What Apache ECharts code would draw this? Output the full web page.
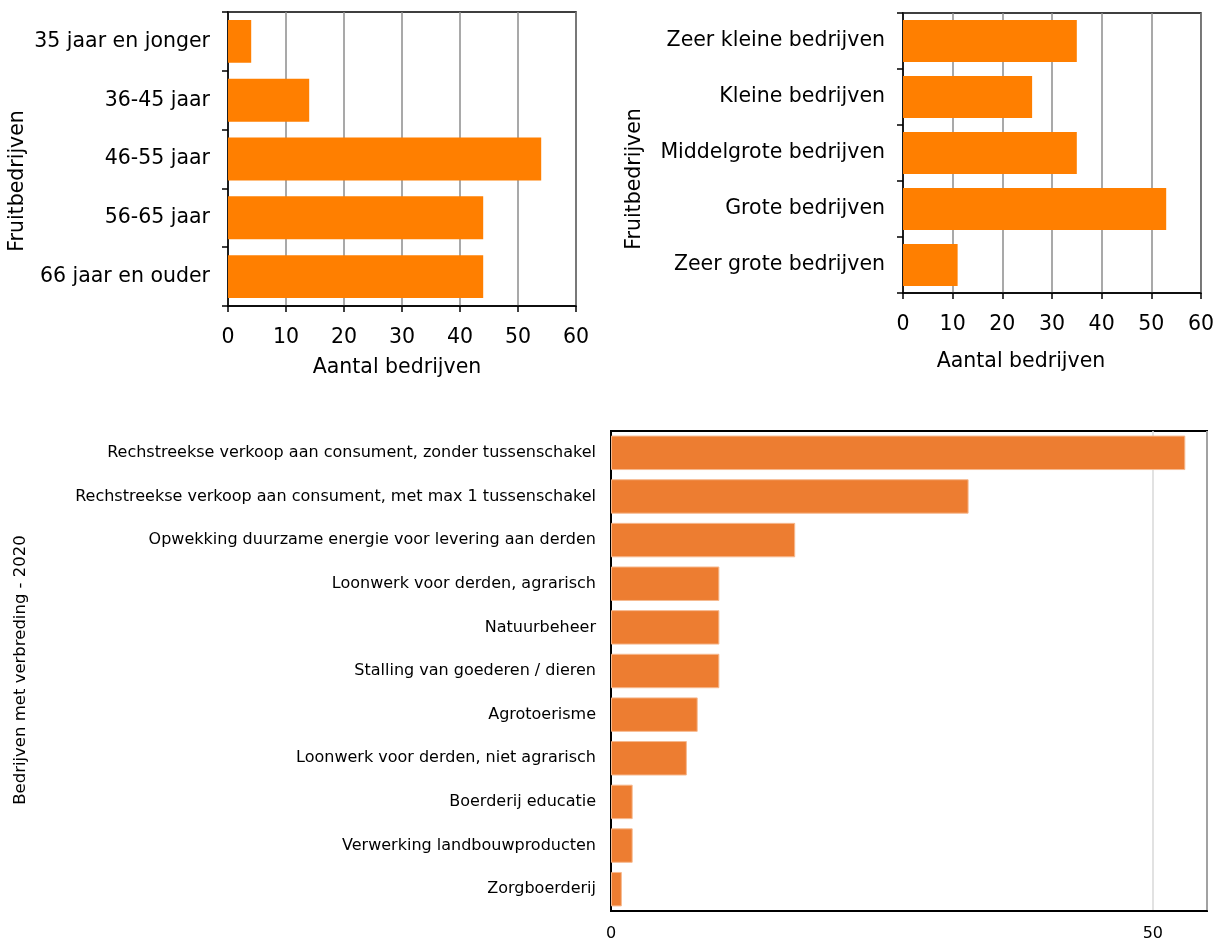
<!DOCTYPE html>
<html>
<head>
<meta charset="utf-8">
<title>Fruitbedrijven</title>
<script src="https://cdn.jsdelivr.net/npm/echarts@6/dist/echarts.min.js"></script>
<style>
  html, body { margin: 0; padding: 0; background: #fff; }
  #chart { width: 1217px; height: 942px; }
</style>
</head>
<body>
<div id="chart"></div>
<script>
// Leeftijd van de bedrijfshoofden
const ageCategories = ['35 jaar en jonger', '36-45 jaar', '46-55 jaar', '56-65 jaar', '66 jaar en ouder'];
const ageValues = [4, 14, 54, 44, 44];

// Bedrijfsgrootte
const sizeCategories = ['Zeer kleine bedrijven', 'Kleine bedrijven', 'Middelgrote bedrijven', 'Grote bedrijven', 'Zeer grote bedrijven'];
const sizeValues = [35, 26, 35, 53, 11];

// Verbreding 2020
const verbredingCategories = [
  'Rechstreekse verkoop aan consument, zonder tussenschakel',
  'Rechstreekse verkoop aan consument, met max 1 tussenschakel',
  'Opwekking duurzame energie voor levering aan derden',
  'Loonwerk voor derden, agrarisch',
  'Natuurbeheer',
  'Stalling van goederen / dieren',
  'Agrotoerisme',
  'Loonwerk voor derden, niet agrarisch',
  'Boerderij educatie',
  'Verwerking landbouwproducten',
  'Zorgboerderij'
];
const verbredingValues = [53, 33, 17, 10, 10, 10, 8, 7, 2, 2, 1];

const FONT = '"DejaVu Sans", Verdana, sans-serif';
const TOP_ORANGE = '#FF7F00';
const BOTTOM_ORANGE = '#ED7D31';
const TOP_SIZE = 20.5;
const BOTTOM_SIZE = 16;

function topValueAxis(gridIndex) {
  return {
    type: 'value', gridIndex: gridIndex, min: 0, max: 60, interval: 10,
    axisLine: { show: true, lineStyle: { color: '#000', width: 1.5 } },
    axisTick: { show: true, length: 6, lineStyle: { color: '#000', width: 1.5 } },
    axisLabel: { color: '#000', fontSize: TOP_SIZE, fontFamily: FONT, margin: 21 },
    splitLine: { show: true, lineStyle: { color: '#8c8c8c', width: 1.5 } }
  };
}

function topCategoryAxis(gridIndex, cats) {
  return {
    type: 'category', gridIndex: gridIndex, data: cats, inverse: true,
    axisLine: { show: true, lineStyle: { color: '#000', width: 1.5 } },
    axisTick: { show: true, length: 6, lineStyle: { color: '#000', width: 1.5 } },
    axisLabel: { color: '#000', fontSize: TOP_SIZE, fontFamily: FONT, margin: 18 },
    splitLine: { show: false }
  };
}

function rotatedTitle(text, x, y, size) {
  return {
    type: 'text', x: x, y: y, rotation: Math.PI / 2,
    style: { text: text, font: size + 'px ' + FONT, fill: '#000', align: 'center', verticalAlign: 'middle' }
  };
}

function flatTitle(text, x, y, size) {
  return {
    type: 'text', x: x, y: y,
    style: { text: text, font: size + 'px ' + FONT, fill: '#000', align: 'center', verticalAlign: 'middle' }
  };
}

const chart = echarts.init(document.getElementById('chart'), null, { renderer: 'canvas' });

chart.setOption({
  backgroundColor: '#fff',
  animation: false,
  grid: [
    { left: 228, top: 12, width: 348, height: 294, show: true, borderColor: '#000', borderWidth: 1.5, backgroundColor: 'transparent' },
    { left: 903, top: 13, width: 300, height: 280, show: true, borderColor: '#000', borderWidth: 1.5, backgroundColor: 'transparent' },
    { left: 611, top: 431, width: 596, height: 480, show: true, borderColor: '#000', borderWidth: 2, backgroundColor: 'transparent' }
  ],
  xAxis: [
    topValueAxis(0),
    topValueAxis(1),
    {
      type: 'value', gridIndex: 2, min: 0, max: 55, interval: 50,
      axisLine: { show: true, lineStyle: { color: '#000', width: 2 } },
      axisTick: { show: false },
      axisLabel: { color: '#000', fontSize: BOTTOM_SIZE, fontFamily: FONT, margin: 15, showMaxLabel: false },
      splitLine: { show: true, lineStyle: { color: '#d9d9d9', width: 1.5 } }
    }
  ],
  yAxis: [
    topCategoryAxis(0, ageCategories),
    topCategoryAxis(1, sizeCategories),
    {
      type: 'category', gridIndex: 2, data: verbredingCategories, inverse: true,
      axisLine: { show: true, lineStyle: { color: '#000', width: 2 } },
      axisTick: { show: false },
      axisLabel: { color: '#000', fontSize: BOTTOM_SIZE, fontFamily: FONT, margin: 15 },
      splitLine: { show: false }
    }
  ],
  series: [
    {
      type: 'bar', xAxisIndex: 0, yAxisIndex: 0, data: ageValues,
      barCategoryGap: '27%', itemStyle: { color: TOP_ORANGE }
    },
    {
      type: 'bar', xAxisIndex: 1, yAxisIndex: 1, data: sizeValues,
      barCategoryGap: '25%', itemStyle: { color: TOP_ORANGE }
    },
    {
      type: 'bar', xAxisIndex: 2, yAxisIndex: 2, data: verbredingValues,
      barCategoryGap: '21%', itemStyle: { color: BOTTOM_ORANGE, borderColor: '#F6B98F', borderWidth: 1 }
    }
  ],
  graphic: [
    rotatedTitle('Fruitbedrijven', 18, 181, TOP_SIZE),
    flatTitle('Aantal bedrijven', 397, 368, TOP_SIZE),
    rotatedTitle('Fruitbedrijven', 635, 179, TOP_SIZE),
    flatTitle('Aantal bedrijven', 1021, 362, TOP_SIZE),
    rotatedTitle('Bedrijven met verbreding - 2020', 21, 670, 16.5)
  ]
});
</script>
</body>
</html>
